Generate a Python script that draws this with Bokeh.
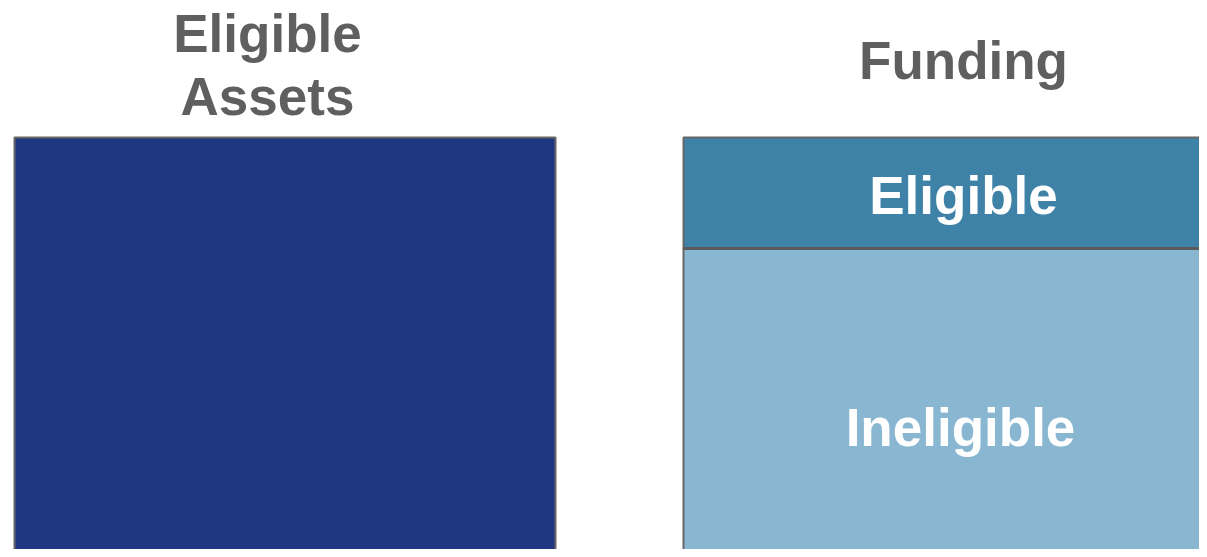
from bokeh.plotting import figure
from bokeh.models import Range1d, ColumnDataSource
from bokeh.embed import file_html
from bokeh.resources import INLINE
from bokeh.core.properties import value

# Data
asset_value = 100
funding_eligible = 24
funding_ineligible = 76
titles = ["Eligible\nAssets", "Funding"]
segment_labels = ["Eligible", "Ineligible"]

NAVY = "#1E3780"
TEAL = "#3F82A8"
LIGHT = "#89B6D1"
BORDER = "#666666"
TITLE_COLOR = "#5F5F5F"
FONT = value("Liberation Sans")

W, H = 1199, 549
# Vertical mapping: value 100 sits at pixel y=137, 4.625 px per unit
px_per_unit = 4.625
top_px = 137
def px_to_data(py):
    return asset_value + (top_px - py) / px_per_unit

p = figure(width=W, height=H, output_backend="svg", toolbar_location=None,
           x_range=Range1d(0, W), y_range=Range1d(px_to_data(H), px_to_data(0)),
           x_axis_location=None, y_axis_location=None, min_border=0,
           outline_line_color=None, background_fill_color="white")
p.xgrid.visible = False
p.ygrid.visible = False

# Left bar: Eligible Assets
p.quad(left=[14], right=[555], bottom=[0], top=[asset_value],
       fill_color=NAVY, line_color=BORDER, line_width=2)

# Right bar: Funding stacked
fund_src = ColumnDataSource(dict(
    left=[683, 683], right=[1245, 1245],
    bottom=[0, funding_ineligible],
    top=[funding_ineligible, funding_ineligible + funding_eligible],
    color=[LIGHT, TEAL],
))
p.quad(left="left", right="right", bottom="bottom", top="top", source=fund_src,
       fill_color="color", line_color=BORDER, line_width=2)
p.segment(x0=[683], x1=[1245], y0=[funding_ineligible], y1=[funding_ineligible],
          line_color="#5a5a5a", line_width=3)

# Segment labels
p.text(x=[963, 960],
       y=[funding_ineligible + funding_eligible / 2 - 0.5, funding_ineligible / 2 - 0.7],
       text=segment_labels, text_color="white", text_font=FONT,
       text_font_style="bold", text_font_size="53px",
       text_align="center", text_baseline="middle")

# Titles
p.text(x=[267, 267, 963],
       y=[px_to_data(33), px_to_data(96), px_to_data(60)],
       text=titles[0].split("\n") + [titles[1]], text_color=TITLE_COLOR, text_font=FONT,
       text_font_style="bold", text_font_size="53px",
       text_align="center", text_baseline="middle")

open("out.html", "w").write(file_html(p, INLINE))
